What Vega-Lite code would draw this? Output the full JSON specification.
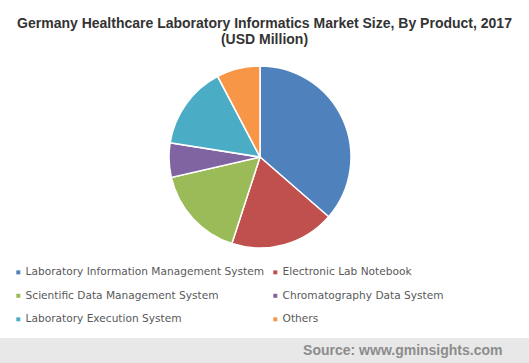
{
  "$schema": "https://vega.github.io/schema/vega-lite/v6.json",
  "padding": {"left": 0, "right": 0, "top": 17, "bottom": 0},
  "spacing": 77,
  "background": "white",
  "title": {
    "text": ["Germany Healthcare Laboratory Informatics Market Size, By Product, 2017", "(USD Million)"],
    "font": "Liberation Sans",
    "fontSize": 14,
    "fontWeight": "bold",
    "color": "#333333",
    "lineHeight": 16,
    "anchor": "middle",
    "offset": 6
  },
  "config": {"view": {"stroke": null}},
  "vconcat": [
    {
      "width": 520,
      "height": 208,
      "data": {
        "values": [
          {"product": "Laboratory Information Management System", "value": 36.4, "rank": 1},
          {"product": "Electronic Lab Notebook", "value": 18.6, "rank": 2},
          {"product": "Scientific Data Management System", "value": 16.4, "rank": 3},
          {"product": "Chromatography Data System", "value": 6.1, "rank": 4},
          {"product": "Laboratory Execution System", "value": 14.8, "rank": 5},
          {"product": "Others", "value": 7.7, "rank": 6}
        ]
      },
      "mark": {"type": "arc", "outerRadius": 91, "stroke": "white", "strokeWidth": 1.5},
      "encoding": {
        "theta": {"field": "value", "type": "quantitative", "stack": true},
        "order": {"field": "rank", "type": "quantitative"},
        "color": {
          "field": "product",
          "type": "nominal",
          "scale": {
            "domain": ["Laboratory Information Management System", "Electronic Lab Notebook", "Scientific Data Management System", "Chromatography Data System", "Laboratory Execution System", "Others"],
            "range": ["#4f81bd", "#c0504d", "#9bbb59", "#8064a2", "#4bacc6", "#f79646"]
          },
          "legend": {
            "title": null,
            "orient": "none",
            "direction": "horizontal",
            "legendX": 13,
            "legendY": 214,
            "columns": 2,
            "columnPadding": 5,
            "rowPadding": 12.5,
            "symbolType": "square",
            "symbolSize": 16,
            "symbolStrokeWidth": 0,
            "labelOffset": 2,
            "labelFont": "DejaVu Sans",
            "labelFontSize": 10.6,
            "labelColor": "#595959",
            "labelLimit": 400
          }
        }
      }
    },
    {
      "width": 529,
      "height": 25,
      "view": {"fill": "#e8e8e8", "stroke": null},
      "data": {"values": [{"source": "Source: www.gminsights.com"}]},
      "mark": {"type": "text", "align": "right", "baseline": "middle", "dx": 238, "font": "Liberation Sans", "fontSize": 14, "fontWeight": "bold", "color": "#8c8c8c"},
      "encoding": {"text": {"field": "source", "type": "nominal"}}
    }
  ]
}
